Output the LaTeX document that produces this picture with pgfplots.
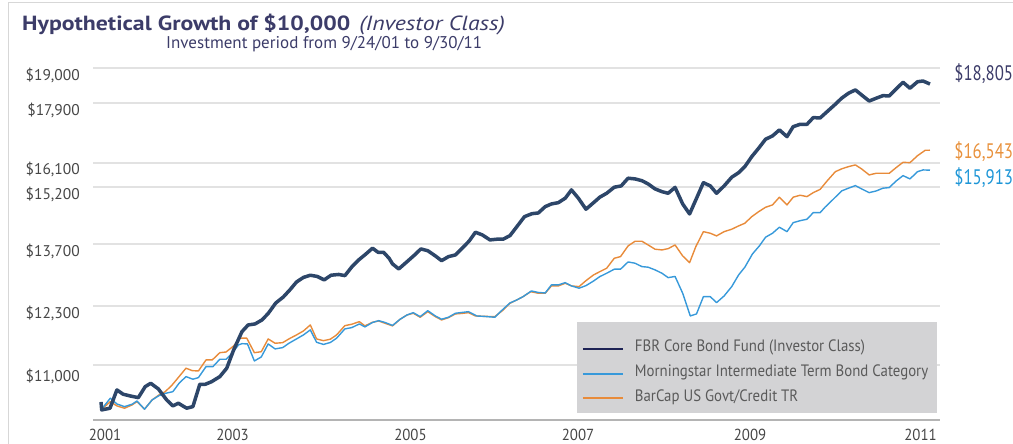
\documentclass[border=0pt]{standalone}
\usepackage{pgfplots}
\pgfplotsset{compat=1.18}
\usepackage{fontspec}
\setmainfont{PT Sans}
\newfontfamily\titlefont[FakeStretch=1.16]{PT Sans}
\newfontfamily\legfont[FakeStretch=0.9]{PT Sans}
\newfontfamily\xtfont[FakeStretch=0.93]{PT Sans}
\newfontfamily\endfont[FakeStretch=0.8]{PT Sans}
\definecolor{fbr}{RGB}{45,70,105}
\definecolor{legfbr}{RGB}{30,35,85}
\definecolor{bluec}{RGB}{55,153,218}
\definecolor{orangec}{RGB}{232,139,58}
\definecolor{titlec}{RGB}{60,60,105}
\definecolor{gridc}{RGB}{226,226,226}
\definecolor{legbg}{RGB}{211,211,213}
\definecolor{axisc}{RGB}{180,180,180}
\definecolor{tickc}{RGB}{70,70,70}
\definecolor{legtext}{RGB}{90,90,90}
\definecolor{framec}{RGB}{215,215,215}
\definecolor{endblue}{RGB}{30,150,215}
\definecolor{endorange}{RGB}{232,145,60}
\begin{document}
\begin{tikzpicture}
\useasboundingbox (0,0) rectangle (1013pt,444pt);
\draw[framec, line width=1pt] (8pt,0pt) -- (8pt,441pt) -- (1013pt,441pt);
\node[anchor=base west, inner sep=0pt, text=titlec, font=\titlefont\fontsize{20.5}{22}\selectfont\bfseries] at (22pt,413pt) {Hypothetical Growth of \$10,000\hspace{9pt}{\mdseries\itshape (Investor Class)}};
\node[anchor=base west, inner sep=0pt, text=titlec, font=\fontsize{17}{18}\selectfont] at (166pt,395.7pt) {Investment period from 9/24/01 to 9/30/11};
\begin{axis}[
  at={(93pt,24pt)}, anchor=south west,
  scale only axis, width=847pt, height=358pt,
  xmin=-1.16, xmax=121.45,
  ymode=log, ymin=9808, ymax=19630,
  axis x line*=bottom, axis y line*=left,
  y axis line style={draw=none},
  x axis line style={draw=axisc, line width=2pt},
  major tick length=0pt,
  ytick={10911,12234,13795,15406,16139,18130,19402},
  yticklabels={{\raisebox{-3.5pt}{\$11,000}},{\$12,300},{\$13,700},{\$15,200},{\raisebox{1.5pt}{\$16,100}},{\$17,900},{\$19,000}},
  ymajorgrids, grid style={gridc, line width=2pt},
  xtick={0.58,19.04,44.8,69.05,93.95,118.63},
  xticklabels={2001,2003,2005,2007,2009,2011},
  xticklabel style={font=\xtfont\fontsize{16}{17}\selectfont, text=tickc, anchor=base, yshift=-21pt},
  yticklabel style={font=\fontsize{15.5}{17}\selectfont, text=tickc, anchor=base east, inner sep=0pt, xshift=-13pt, yshift=-13pt},
  clip=false,
  legend image code/.code={\draw[#1] (0pt,-2.5pt) -- (40pt,-2.5pt);},
  legend style={at={(0.577,0.2234)}, anchor=north west, draw=none, fill=none, inner sep=0pt,
    font=\legfont\fontsize{16.5}{18}\selectfont, text=legtext, row sep=11.3pt, column sep=11pt,
    nodes={inner sep=0pt}},
  legend cell align=left,
]
\addplot[orangec, line width=1.4pt, line join=round, forget plot] coordinates {
(0,10000) (1.35,10162) (2.3,10078) (3.4,10033) (4.5,10097) (5.2,10162) (6.3,10014) (7.4,10196) (8.4,10295) (9.3,10360) (10.3,10496) (11.3,10667) (12.3,10842) (13.2,10791) (14.1,10784) (15.2,11017) (16.1,11017) (17.2,11173) (18.1,11188) (19.2,11320) (20.1,11491) (21.1,11491) (22.2,11173) (23.2,11194) (24.2,11475) (25.2,11379) (26.3,11392) (27.2,11475) (28.3,11564) (29.3,11653) (30.3,11790) (31.2,11475) (32.2,11436) (33.2,11469) (34.1,11564) (35.3,11774) (36.3,11806) (37.4,11865) (38.2,11768) (39.3,11851) (40.2,11881) (41.1,11829) (42.2,11768) (43.3,11921) (44.3,12020) (45.2,12060) (46.2,11967) (47.3,12097) (48.4,11981) (49.3,11905) (50.3,11958) (51.3,12044) (52.2,12055) (53.2,12074) (54.2,11997) (55.2,11990) (56.1,11985) (57.0,11981) (58.1,12120) (59.2,12296) (60.2,12376) (61.1,12455) (62.2,12575) (63.3,12537) (64.3,12537) (65.2,12716) (66.2,12716) (67.2,12782) (68.1,12716) (69.2,12699) (70.2,12846) (71.3,12990) (72.2,13072) (73.2,13160) (74.3,13417) (75.2,13459) (76.3,13741) (77.3,13865) (78.3,13865) (79.2,13767) (80.2,13654) (81.2,13635) (82.1,13669) (83.1,13767) (84.2,13477) (85.2,13303) (86.1,13722) (87.2,14126) (88.2,14083) (89.1,14010) (90.2,14126) (91.3,14193) (92.3,14284) (93.2,14358) (94.2,14543) (95.2,14684) (96.2,14811) (97.2,14877) (98.2,15102) (99.3,14877) (100.2,15102) (101.2,15160) (102.2,15119) (103.1,15236) (104.1,15332) (105.1,15584) (106.3,15867) (107.2,15953) (108.2,16024) (109.2,16076) (110.1,15953) (111.2,15767) (112.2,15819) (113.2,15819) (114.1,15819) (115.1,15993) (116.1,16160) (117.1,16147) (118.2,16368) (119.3,16539) (120.0,16543)
};
\addplot[bluec, line width=1.4pt, line join=round, forget plot] coordinates {
(0,10000) (1.35,10230) (2.3,10116) (3.4,10064) (4.5,10111) (5.2,10175) (6.3,10014) (7.4,10196) (8.4,10281) (9.4,10329) (10.4,10360) (11.3,10530) (12.3,10667) (13.3,10613) (14.1,10646) (15.2,10875) (16.2,10875) (17.2,11032) (18.1,11032) (19.0,11167) (19.9,11342) (20.4,11370) (21.2,11364) (22.2,10995) (23.2,11081) (24.2,11364) (25.2,11255) (26.3,11283) (27.2,11379) (28.3,11475) (29.3,11564) (30.3,11677) (31.2,11401) (32.2,11353) (33.2,11396) (34.1,11491) (35.3,11700) (36.3,11729) (37.4,11813) (38.2,11745) (39.3,11847) (40.2,11888) (41.1,11847) (42.2,11779) (43.3,11921) (44.3,12020) (45.2,12074) (46.2,11981) (47.3,12120) (48.4,11997) (49.3,11921) (50.3,11967) (51.3,12060) (52.2,12078) (53.2,12097) (54.4,11997) (55.6,11985) (57.0,11967) (58.2,12155) (59.2,12303) (60.2,12376) (61.1,12455) (62.3,12592) (63.3,12556) (64.3,12544) (65.2,12740) (66.2,12740) (67.2,12797) (68.1,12716) (69.2,12660) (70.2,12723) (71.3,12838) (72.2,12947) (73.2,13032) (74.3,13135) (75.2,13135) (76.3,13321) (77.3,13288) (78.3,13201) (79.2,13186) (80.2,13117) (81.2,13032) (82.1,12922) (83.1,12952) (84.2,12537) (85.3,11997) (86.2,12044) (87.2,12455) (88.2,12455) (89.1,12310) (90.2,12472) (91.3,12699) (92.3,12990) (93.2,13186) (94.3,13529) (95.3,13741) (96.2,13975) (97.2,14083) (98.2,14248) (99.3,14126) (100.2,14375) (101.2,14430) (102.2,14471) (103.1,14656) (104.1,14656) (104.8,14811) (105.9,15023) (107.2,15285) (108.2,15368) (109.2,15445) (110.1,15347) (111.2,15236) (112.2,15285) (113.2,15368) (114.1,15385) (115.1,15584) (116.1,15746) (117.1,15646) (118.2,15867) (119.0,15922) (120.0,15913)
};
\addplot[fbr, line width=3.5pt, line join=round, forget plot] coordinates {
(0,10156) (0.1,10000) (1.3,10033) (2.3,10395) (3.2,10309) (4.2,10275) (5.4,10241) (6.4,10462) (7.2,10530) (8.3,10415) (9.5,10196) (10.4,10078) (11.2,10130) (12.4,10033) (13.3,10064) (14.3,10510) (15.1,10510) (16.0,10562) (17.2,10667) (18.2,10842) (19.2,11233) (20.4,11637) (21.3,11790) (22.3,11813) (23.3,11905) (24.2,12055) (25.3,12303) (26.4,12448) (27.4,12630) (28.3,12814) (29.3,12927) (30.3,12982) (31.3,12952) (32.3,12865) (33.3,12982) (34.4,13002) (35.3,12972) (36.3,13193) (37.3,13373) (38.3,13521) (39.3,13680) (40.1,13573) (40.9,13573) (41.7,13417) (42.2,13270) (43.1,13142) (44.3,13328) (45.4,13503) (46.3,13661) (47.3,13614) (48.4,13477) (49.3,13354) (50.3,13459) (51.3,13503) (52.5,13722) (53.3,13873) (54.2,14110) (55.2,14037) (56.3,13902) (57.3,13921) (58.2,13921) (59.2,14018) (60.2,14265) (61.3,14543) (62.4,14628) (63.3,14647) (64.3,14828) (65.2,14906) (66.2,14943) (67.2,15073) (68.1,15317) (69.1,15073) (70.2,14754) (71.3,14943) (72.2,15102) (73.2,15218) (74.3,15397) (75.3,15436) (76.3,15668) (77.3,15646) (78.3,15593) (79.2,15495) (80.2,15347) (81.2,15265) (82.1,15218) (83.1,15391) (84.2,14906) (85.2,14619) (86.1,15023) (87.2,15534) (88.2,15436) (89.1,15218) (90.2,15436) (91.3,15698) (92.3,15837) (93.2,16024) (94.2,16337) (95.2,16606) (96.2,16898) (97.2,17006) (98.2,17205) (99.3,16983) (100.2,17315) (101.2,17395) (102.2,17395) (103.1,17620) (104.1,17610) (105.1,17824) (106.3,18083) (107.2,18295) (108.2,18472) (109.2,18592) (110.1,18412) (111.2,18197) (112.2,18295) (113.2,18387) (114.1,18377) (115.1,18628) (116.1,18870) (117.1,18653) (118.2,18891) (119.0,18917) (120.0,18805)
};
\fill[legbg] (rel axis cs:0.5714,0.0196) rectangle (rel axis cs:0.9965,0.2737);
\addlegendimage{legfbr, line width=2pt}
\addlegendentry{FBR Core Bond Fund (Investor Class)}
\addlegendimage{bluec, line width=2pt}
\addlegendentry{Morningstar Intermediate Term Bond Category}
\addlegendimage{orangec, line width=2pt}
\addlegendentry{BarCap US Govt/Credit TR}
\node[anchor=west, inner sep=0pt, text=titlec, font=\endfont\fontsize{21}{22}\selectfont] at (axis cs:123.5,19204) {\$18,805};
\node[anchor=west, inner sep=0pt, text=endorange, font=\endfont\fontsize{21}{22}\selectfont] at (axis cs:123.5,16497) {\$16,543};
\node[anchor=west, inner sep=0pt, text=endblue, font=\endfont\fontsize{21}{22}\selectfont] at (axis cs:123.5,15677) {\$15,913};
\end{axis}
\end{tikzpicture}
\end{document}
